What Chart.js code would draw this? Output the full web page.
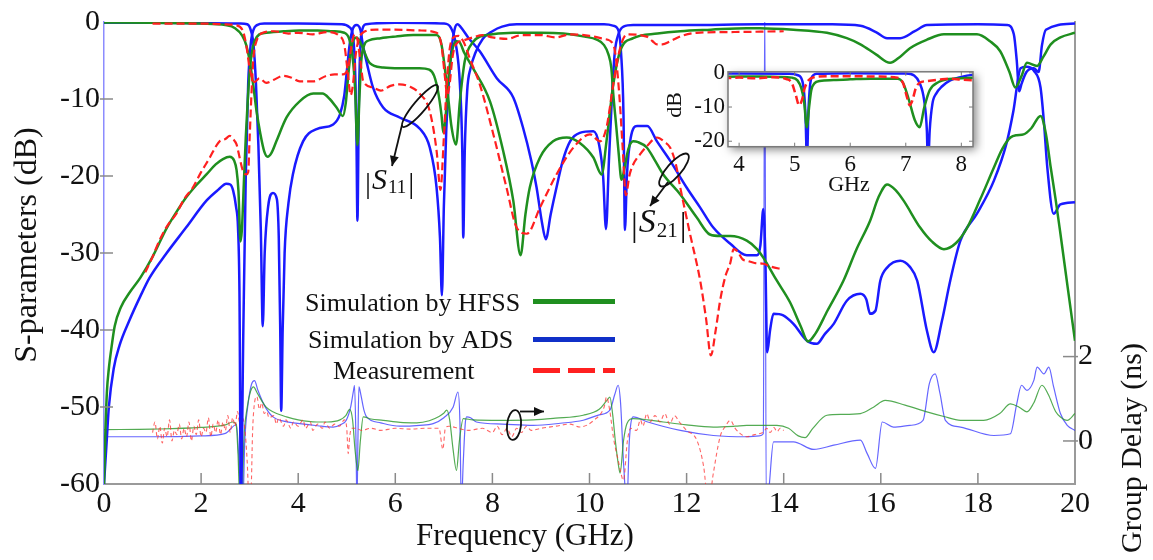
<!DOCTYPE html>
<html><head><meta charset="utf-8">
<script src="https://cdn.jsdelivr.net/npm/chart.js@4.4.0/dist/chart.umd.min.js"></script>
<style>
html,body{margin:0;padding:0;background:#fff;}
#wrap{position:relative;width:1153px;height:560px;overflow:hidden;}
#main{position:absolute;left:0;top:0;width:1153px;height:560px;}
#inset{position:absolute;left:650px;top:55px;width:335px;height:150px;}
</style></head><body>
<div id="wrap">
<canvas id="main" width="1153" height="560"></canvas>
<canvas id="inset" width="335" height="150"></canvas>
</div>
<script>
// ---------- tick labels ----------
const xTicks = [0,2,4,6,8,10,12,14,16,18,20];
const yTicks = [-60,-50,-40,-30,-20,-10,0];
const gdTicks = [0,2];
const insetXTicks = [4,5,6,7,8];
const insetYTicks = [-20,-10,0];

// ---------- series: [frequency GHz, value] ----------
const hfssS21 = [[0,-60],[0.03,-53],[0.06,-48],[0.1,-45],[0.16,-42],[0.22,-39.5],[0.35,-37],[0.52,-35.2],[0.75,-33.2],[1.0,-30.5],[1.28,-26.9],[1.5,-24.6],[1.69,-22.8],[1.9,-21.2],[2.11,-19.8],[2.3,-18.5],[2.45,-17.8],[2.59,-17.5],[2.68,-18.0],[2.73,-19.2],[2.77,-22],[2.81,-28.5],[2.84,-27],[2.88,-21],[2.92,-15],[2.96,-10.3],[3.0,-6.5],[3.04,-4.2],[3.1,-2.5],[3.2,-1.6],[3.34,-1.4],[3.7,-1.2],[4.03,-1.1],[4.4,-1.1],[4.71,-1.2],[4.95,-1.4],[5.05,-2.2],[5.12,-4.5],[5.17,-8.5],[5.22,-16],[5.26,-10],[5.3,-5],[5.36,-3],[5.45,-2.4],[5.7,-2.1],[6.0,-1.9],[6.37,-1.7],[6.85,-1.7],[6.95,-2.9],[7.06,-8.1],[7.16,-13.7],[7.25,-15.9],[7.33,-10.3],[7.43,-5.1],[7.6,-2.6],[7.74,-1.9],[8.0,-1.6],[8.43,-1.4],[9.0,-1.4],[9.46,-1.5],[9.9,-1.9],[10.15,-2.3],[10.3,-3],[10.39,-4.2],[10.45,-6],[10.49,-9.4],[10.55,-13.5],[10.6,-17],[10.66,-20.5],[10.72,-19],[10.8,-16.5],[10.9,-15.5],[11.0,-15.6],[11.18,-16.3],[11.35,-18],[11.52,-19.8],[11.87,-22.4],[12.21,-25.4],[12.48,-27.6],[12.7,-27.8],[12.9,-27.8],[13.24,-28.4],[13.45,-29.5],[13.58,-30.6],[13.85,-33.5],[14.13,-36.4],[14.35,-39.5],[14.5,-41.5],[14.65,-40.5],[14.9,-37.5],[15.23,-33.6],[15.5,-29.5],[15.78,-25.8],[15.95,-22.8],[16.13,-21.1],[16.3,-21.8],[16.47,-23.2],[16.81,-26.7],[17.05,-28.5],[17.3,-29.5],[17.55,-28.7],[17.78,-26.7],[18.05,-23],[18.33,-18.9],[18.5,-16.5],[18.67,-15],[18.8,-14.7],[18.94,-14.6],[19.1,-13.8],[19.29,-12.2],[19.4,-14.5],[19.5,-18.9],[19.6,-23],[19.7,-27.5],[19.85,-34.5],[20,-41.4]];

const hfssS11 = [[0,-0.05],[1,-0.1],[2,-0.2],[2.5,-0.4],[2.7,-0.8],[2.85,-1.8],[2.93,-3],[3.0,-5],[3.07,-8],[3.14,-11.5],[3.22,-14.5],[3.3,-16.8],[3.37,-17.5],[3.45,-17],[3.55,-15.5],[3.76,-12.4],[4.03,-10.3],[4.31,-9.3],[4.5,-9.3],[4.65,-10],[4.79,-11.1],[4.92,-12.2],[4.98,-10.5],[5.03,-7],[5.08,-4],[5.14,-2.3],[5.2,-2],[5.26,-2.4],[5.32,-3.2],[5.47,-5.3],[5.75,-5.9],[6.1,-6.0],[6.5,-6.0],[6.7,-6.2],[6.8,-7],[6.88,-9],[6.95,-12],[6.99,-14.4],[7.04,-12],[7.1,-7],[7.17,-3.8],[7.25,-2.5],[7.32,-2.6],[7.42,-4],[7.6,-6],[7.95,-10.3],[8.22,-16.7],[8.43,-23.2],[8.58,-30.3],[8.68,-25],[8.77,-21.5],[8.98,-17.6],[9.25,-15.5],[9.53,-15],[9.8,-15.7],[10.08,-17.6],[10.25,-19.8],[10.35,-15.5],[10.49,-8.1],[10.63,-3.8],[10.9,-2.1],[11.4,-1.5],[11.87,-1.2],[12.5,-1.0],[13.24,-0.8],[13.51,-0.8],[14.2,-1.0],[14.89,-1.4],[15.3,-2.1],[15.58,-2.9],[15.9,-4.2],[16.19,-5.3],[16.4,-4.5],[16.6,-3.4],[16.95,-2.3],[17.3,-1.6],[17.98,-1.6],[18.25,-2.5],[18.46,-3.8],[18.65,-6.5],[18.77,-8.5],[18.9,-7],[19.01,-5.3],[19.22,-5.7],[19.35,-4.5],[19.5,-2.9],[19.7,-2],[20,-1.4]];

const adsS21 = [[0,-60],[0.05,-55],[0.1,-50],[0.2,-45],[0.32,-42],[0.52,-38.8],[0.75,-35.6],[0.94,-33.2],[1.28,-30.1],[1.69,-26.7],[2.11,-23.2],[2.35,-21.8],[2.52,-21],[2.6,-21.1],[2.66,-21.9],[2.72,-24],[2.76,-26.7],[2.79,-35],[2.82,-62],[2.87,-40],[2.92,-20],[2.97,-8],[3.02,-3],[3.08,-1],[3.15,-0.4],[3.3,-0.2],[4.0,-0.2],[4.9,-0.3],[5.06,-0.7],[5.14,-2.5],[5.18,-8],[5.2,-15],[5.22,-25.8],[5.25,-10.3],[5.3,-1.6],[5.4,-0.3],[6.0,-0.1],[7.0,-0.2],[7.15,-0.8],[7.25,-3],[7.33,-8],[7.38,-17],[7.4,-28],[7.43,-17],[7.48,-9],[7.55,-6],[7.65,-4],[7.8,-2.2],[8.0,-1.2],[8.2,-0.6],[8.5,-0.3],[10.3,-0.3],[10.5,-0.5],[10.6,-1.2],[10.65,-4],[10.7,-12],[10.73,-27],[10.77,-20],[10.85,-15],[10.98,-13.5],[11.19,-13.5],[11.39,-15.5],[11.66,-18],[12.0,-21.5],[12.28,-24.1],[12.55,-26.7],[12.9,-28.8],[13.24,-30.3],[13.45,-30.3],[13.52,-29],[13.58,-24.3],[13.62,-30],[13.66,-42.9],[13.72,-40],[13.79,-37.9],[13.99,-38.1],[14.2,-39.2],[14.48,-41.4],[14.68,-41.8],[14.85,-40.5],[15.03,-39.2],[15.3,-36.2],[15.58,-35.3],[15.7,-36],[15.78,-37.9],[15.89,-37.5],[15.99,-33.6],[16.13,-31.9],[16.4,-31],[16.6,-31.8],[16.75,-33.6],[16.95,-40.1],[17.09,-42.9],[17.26,-38.8],[17.43,-33.6],[17.64,-28.4],[17.98,-24.9],[18.33,-20.6],[18.6,-15.5],[18.73,-11.6],[18.88,-6],[19.0,-5.8],[19.15,-6.3],[19.29,-8.5],[19.36,-13],[19.43,-18.9],[19.56,-24.9],[19.7,-23.7],[20,-23.4]];

const adsS11 = [[0,-0.1],[1,-0.1],[2,-0.15],[2.8,-0.2],[2.95,-0.3],[3.02,-1],[3.08,-3],[3.13,-8],[3.18,-16],[3.23,-27],[3.27,-39.5],[3.31,-30],[3.38,-24],[3.48,-22.2],[3.56,-23],[3.6,-28],[3.63,-40],[3.65,-50.5],[3.68,-40],[3.72,-30],[3.8,-23.5],[3.89,-19.8],[4.1,-15.5],[4.38,-13.9],[4.72,-13.3],[4.86,-12],[4.95,-9.5],[5.0,-6.5],[5.06,-2.9],[5.12,-1],[5.2,-0.4],[5.28,-1],[5.33,-2.9],[5.42,-5.5],[5.54,-8.5],[5.75,-11.1],[6.09,-12.4],[6.51,-13.9],[6.71,-16.3],[6.85,-21.5],[6.92,-28],[6.96,-35.5],[7.0,-24],[7.05,-14],[7.09,-9],[7.15,-4],[7.22,-1],[7.28,-0.3],[7.34,-0.6],[7.5,-2],[7.74,-3.8],[8.09,-7.3],[8.43,-9.8],[8.63,-13.7],[8.8,-18],[8.91,-21.5],[9.02,-26],[9.1,-28.2],[9.2,-25],[9.32,-21.5],[9.45,-18],[9.6,-15.5],[9.8,-14.4],[10.08,-14.2],[10.2,-16],[10.28,-20],[10.34,-26.9],[10.4,-18],[10.46,-10],[10.52,-4],[10.6,-1.5],[10.7,-0.6],[10.9,-0.4],[12,-0.4],[13.5,-0.3],[15.0,-0.3],[15.58,-0.5],[15.9,-1.3],[16.13,-2.1],[16.4,-2.1],[16.7,-1.2],[16.95,-0.4],[18.0,-0.3],[18.6,-0.4],[18.74,-1.6],[18.8,-5],[18.85,-9],[18.9,-8],[19.0,-6.5],[19.15,-6],[19.25,-6.5],[19.32,-3],[19.4,-1],[20,-0.2]];

const measS21 = [[0.85,-32.5],[1.0,-30.5],[1.14,-28.4],[1.3,-26.5],[1.49,-24.9],[1.65,-23],[1.83,-21.5],[2.0,-19.5],[2.18,-17.6],[2.3,-16.2],[2.38,-15.5],[2.5,-15.2],[2.59,-14.8],[2.66,-15.2],[2.73,-15.9],[2.8,-17.8],[2.86,-19.3],[2.93,-19.8],[2.97,-19.5],[3.0,-15],[3.04,-9],[3.08,-4.5],[3.14,-2.5],[3.27,-1.4],[3.5,-1.2],[3.8,-1.5],[4.0,-1.4],[4.3,-1.6],[4.6,-1.3],[4.85,-1.8],[4.95,-3],[5.02,-6.5],[5.08,-9.5],[5.13,-8],[5.18,-4.5],[5.25,-2.2],[5.35,-1.3],[5.6,-1.0],[6.0,-1.0],[6.5,-1.1],[6.85,-1.4],[6.95,-3],[7.02,-7],[7.07,-9.5],[7.12,-8],[7.18,-4.5],[7.25,-2.9],[7.4,-2.4],[7.6,-2.0],[7.8,-1.7],[8.0,-2.0],[8.3,-2.2],[8.6,-1.7],[9.0,-1.7],[9.3,-2.0],[9.6,-1.6],[10.0,-1.8],[10.3,-2.2],[10.49,-2.9],[10.55,-5],[10.62,-10],[10.68,-16],[10.75,-22.5],[10.82,-20],[10.9,-18.5],[11.04,-17.2],[11.2,-16],[11.39,-15],[11.55,-15.6],[11.66,-16.3],[11.78,-18.5],[11.87,-21.5],[12.07,-27.5],[12.28,-33.6],[12.4,-38.5],[12.5,-43.3],[12.6,-40],[12.69,-36.2],[12.8,-33],[12.9,-31.3],[12.97,-29.5],[13.05,-29.8],[13.15,-30.8],[13.24,-31],[13.4,-31.3],[13.58,-31.4],[13.75,-31.8],[13.97,-32.1]];

const measS11 = [[1.0,-0.2],[2.0,-0.2],[2.5,-0.3],[2.7,-0.4],[2.85,-1],[2.93,-3],[3.0,-6],[3.1,-7.8],[3.2,-7.3],[3.34,-7.9],[3.5,-7.5],[3.69,-7.0],[3.85,-7.2],[4.03,-7.7],[4.31,-7.7],[4.58,-7.0],[4.75,-6.8],[4.92,-6.8],[5.03,-5.9],[5.1,-3],[5.16,-1.6],[5.22,-2.3],[5.28,-5],[5.34,-7.7],[5.54,-8.5],[5.7,-8.9],[5.9,-8.3],[6.09,-8.1],[6.3,-8.4],[6.5,-9.3],[6.71,-11.6],[6.85,-16.7],[6.93,-21.8],[7.0,-15],[7.06,-8],[7.12,-3.5],[7.2,-2],[7.3,-1.8],[7.4,-2.5],[7.55,-5],[7.74,-8.1],[8.02,-14.6],[8.29,-21.5],[8.5,-26.7],[8.71,-27.5],[8.98,-24.1],[9.32,-19.8],[9.67,-16.3],[10.01,-14.6],[10.22,-15.5],[10.35,-13.7],[10.49,-8.1],[10.63,-3.4],[10.77,-1.6],[11.18,-1.9],[11.3,-2.5],[11.39,-2.9],[11.5,-2.9],[11.66,-2.5],[11.9,-1.8],[12.21,-1.4],[13.0,-1.3],[14.0,-1.2]];

// group delay (ns)
const hfssGD = [[0,0.27],[1,0.28],[2,0.32],[2.5,0.38],[2.65,0.45],[2.72,0.4],[2.76,-0.3],[2.8,-1.5],[2.84,-1.5],[2.88,0],[2.95,0.8],[3.02,1.18],[3.08,1.28],[3.15,1.15],[3.25,0.95],[3.34,0.8],[3.5,0.68],[3.76,0.57],[4.0,0.5],[4.38,0.45],[4.6,0.45],[4.86,0.5],[4.98,0.6],[5.06,0.75],[5.12,0.5],[5.17,-0.2],[5.23,-0.7],[5.28,0],[5.34,0.57],[5.5,0.52],[5.75,0.49],[6.1,0.44],[6.44,0.43],[6.7,0.48],[6.9,0.58],[6.99,0.65],[7.06,0.73],[7.12,0.5],[7.19,-0.2],[7.26,-0.7],[7.32,0],[7.4,0.53],[7.6,0.5],[8.15,0.49],[8.84,0.5],[9.3,0.54],[9.87,0.61],[10.2,0.75],[10.35,0.95],[10.42,1.04],[10.48,0.6],[10.53,0.02],[10.6,-0.6],[10.63,-0.76],[10.7,0],[10.77,0.41],[10.9,0.53],[11.2,0.5],[11.52,0.45],[12.0,0.38],[12.55,0.33],[13.0,0.35],[13.24,0.37],[13.86,0.37],[14.1,0.3],[14.3,0.12],[14.44,0.08],[14.6,0.3],[14.89,0.61],[15.2,0.63],[15.58,0.65],[15.85,0.8],[16.09,0.96],[16.5,0.85],[16.95,0.69],[17.3,0.58],[17.64,0.49],[18.12,0.49],[18.45,0.65],[18.67,0.88],[18.85,0.8],[19.01,0.69],[19.15,0.9],[19.32,1.32],[19.45,1.1],[19.6,0.7],[19.7,0.57],[19.84,0.49],[20,0.65]];

const adsGD = [[0,0.1],[1,0.1],[2,0.12],[2.5,0.18],[2.73,0.39],[2.78,-0.5],[2.82,-1.5],[2.86,-1.5],[2.9,0],[2.97,0.9],[3.04,1.35],[3.1,1.43],[3.17,1.2],[3.3,0.85],[3.48,0.57],[3.7,0.47],[4.03,0.41],[4.4,0.36],[4.72,0.33],[4.9,0.4],[4.99,0.49],[5.08,0.8],[5.14,1.2],[5.16,1.32],[5.19,0],[5.21,-1.5],[5.23,0],[5.25,1.28],[5.29,1.1],[5.35,0.75],[5.41,0.57],[5.7,0.43],[6.09,0.35],[6.5,0.37],[6.78,0.41],[7.0,0.55],[7.19,0.8],[7.29,1.16],[7.33,0.5],[7.36,-1.5],[7.4,-0.5],[7.44,0.4],[7.47,0.57],[7.55,0.55],[7.67,0.45],[8.2,0.4],[8.84,0.37],[9.4,0.42],[9.87,0.49],[10.2,0.62],[10.42,0.73],[10.52,1.1],[10.59,1.32],[10.64,0.9],[10.7,-0.5],[10.77,-1.5],[10.82,0],[10.9,0.57],[11.2,0.45],[11.87,0.25],[12.55,0.13],[13.24,0.1],[13.5,0.12],[13.58,0.17],[13.61,10.5],[13.64,-1.5],[13.69,-1.2],[13.79,-0.02],[14.2,-0.02],[14.62,-0.2],[15.03,-0.1],[15.58,0.02],[15.72,-0.3],[15.89,-0.65],[16.03,0.45],[16.26,0.33],[16.6,0.37],[16.87,0.49],[17.0,1.36],[17.12,1.59],[17.22,1.12],[17.33,0.49],[17.64,0.33],[18.33,0.13],[18.67,0.17],[18.8,0.88],[18.9,1.32],[19.01,1.2],[19.15,1.43],[19.22,1.75],[19.36,1.59],[19.46,1.75],[19.56,1.28],[19.7,0.65],[19.84,0.37],[20,0.25]];

const measGD = [[1.0,0.2],[1.05,0.45],[1.1,0.05],[1.15,0.35],[1.2,-0.05],[1.25,0.3],[1.3,0.1],[1.35,0.5],[1.4,0.0],[1.45,0.25],[1.5,0.15],[1.55,0.4],[1.6,0.05],[1.65,0.3],[1.7,0.1],[1.75,0.45],[1.8,0.0],[1.85,0.35],[1.9,0.15],[1.95,0.5],[2.0,0.1],[2.05,0.3],[2.1,0.2],[2.15,0.55],[2.2,0.1],[2.25,0.4],[2.3,0.2],[2.35,0.5],[2.4,0.15],[2.45,0.45],[2.5,0.25],[2.55,0.6],[2.6,0.2],[2.65,0.55],[2.7,0.35],[2.75,0.7],[2.8,0.4],[2.85,0.55],[2.9,0.3],[2.95,-0.5],[2.99,-1.5],[3.03,-1.2],[3.06,0.2],[3.1,0.9],[3.15,1.05],[3.2,0.75],[3.25,0.9],[3.3,0.65],[3.35,0.7],[3.4,0.55],[3.5,0.6],[3.55,0.4],[3.6,0.55],[3.7,0.35],[3.75,0.5],[3.85,0.3],[3.9,0.45],[4.0,0.35],[4.1,0.5],[4.15,0.3],[4.25,0.45],[4.3,0.25],[4.4,0.4],[4.5,0.3],[4.55,0.45],[4.65,0.3],[4.75,0.4],[4.85,0.35],[4.95,0.5],[5.0,0.3],[5.03,-0.3],[5.06,0.1],[5.1,0.3],[5.2,0.3],[5.3,0.25],[5.5,0.3],[5.7,0.25],[6.0,0.3],[6.3,0.28],[6.6,0.3],[6.9,0.3],[6.98,-0.2],[7.03,0.3],[7.1,0.35],[7.3,0.3],[7.5,0.25],[7.8,0.3],[8.0,0.2],[8.1,0.35],[8.2,0.15],[8.3,0.3],[8.4,0.1],[8.5,0.3],[8.6,0.2],[8.7,0.35],[8.8,0.25],[9.0,0.3],[9.3,0.35],[9.6,0.4],[9.8,0.33],[10.1,0.5],[10.3,0.8],[10.35,1.04],[10.42,0.7],[10.49,0.1],[10.6,-0.5],[10.7,-0.93],[10.78,0],[10.85,0.3],[10.97,0.25],[11.05,0.5],[11.1,0.35],[11.18,0.65],[11.25,0.45],[11.35,0.6],[11.45,0.45],[11.55,0.65],[11.65,0.4],[11.75,0.6],[11.85,0.45],[12.0,0.25],[12.21,0.02],[12.35,-0.6],[12.45,-1.5],[12.55,-0.77],[12.69,0.1],[12.8,0.35],[12.9,0.49],[13.0,0.3],[13.1,0.18],[13.24,0.1],[13.4,0.15],[13.58,0.21],[13.65,0.3],[13.72,0.2],[13.8,0.32],[13.86,0.22],[13.93,0.3],[14.0,0.25]];

// ---------- styling ----------
const SERIF = "'Liberation Serif', serif";
Chart.defaults.font.family = SERIF;
const GREEN = '#1f8f1f', BLUE = '#1a1aff', RED = '#ff2020';
const GREEN_T = 'rgba(40,150,40,0.8)', BLUE_T = 'rgba(50,50,255,0.75)', RED_T = 'rgba(255,50,50,0.75)';
const pts = a => a.map(p => ({x: p[0], y: p[1]}));

function ds(data, color, width, dash, axis, order) {
  return {data: pts(data), yAxisID: axis, showLine: true, borderColor: color, borderWidth: width,
          borderDash: dash, pointRadius: 0, fill: false, order: order, cubicInterpolationMode: 'monotone'};
}

function line(ctx, x1, y1, x2, y2) { ctx.beginPath(); ctx.moveTo(x1, y1); ctx.lineTo(x2, y2); ctx.stroke(); }
function arrow(ctx, x1, y1, x2, y2) {
  line(ctx, x1, y1, x2, y2);
  const ang = Math.atan2(y2 - y1, x2 - x1), L = 10, W = 4.5;
  ctx.beginPath();
  ctx.moveTo(x2, y2);
  ctx.lineTo(x2 - L*Math.cos(ang) + W*Math.sin(ang), y2 - L*Math.sin(ang) - W*Math.cos(ang));
  ctx.lineTo(x2 - L*Math.cos(ang) - W*Math.sin(ang), y2 - L*Math.sin(ang) + W*Math.cos(ang));
  ctx.closePath(); ctx.fill();
}
function loop(ctx, cx, cy, rx, ry, rot) { ctx.beginPath(); ctx.ellipse(cx, cy, rx, ry, rot, 0, Math.PI*2); ctx.stroke(); }
function sLabel(ctx, x, base, sub, size) {
  ctx.textAlign = 'left'; ctx.textBaseline = 'alphabetic';
  ctx.font = `${size}px ${SERIF}`;
  ctx.fillText('|', x, base + size*0.12);
  let cx = x + ctx.measureText('|').width + 1;
  ctx.font = `italic ${size}px ${SERIF}`;
  ctx.fillText('S', cx, base);
  cx += ctx.measureText('S').width + 1;
  const ss = Math.round(size*0.62);
  ctx.font = `${ss}px ${SERIF}`;
  ctx.fillText(sub, cx, base + size*0.14);
  cx += ctx.measureText(sub).width + 2;
  ctx.font = `${size}px ${SERIF}`;
  ctx.fillText('|', cx, base + size*0.12);
}
function vText(ctx, s, cx, cy, font) {
  ctx.save(); ctx.translate(cx, cy); ctx.rotate(-Math.PI/2);
  ctx.font = font; ctx.textAlign = 'center'; ctx.textBaseline = 'middle';
  ctx.fillText(s, 0, 0); ctx.restore();
}

const decor = {
  id: 'decor',
  afterDraw(chart) {
    const {ctx, chartArea: a, scales: {x, y, y2}} = chart;
    ctx.save();
    // inward ticks
    ctx.strokeStyle = '#8a8a8a'; ctx.lineWidth = 1.5;
    xTicks.forEach(v => { if (v > 0 && v < 20) { const p = x.getPixelForValue(v); line(ctx, p, a.bottom, p, a.bottom - 11); } });
    yTicks.forEach(v => { if (v > -60 && v < 0) { const p = y.getPixelForValue(v); line(ctx, a.left - 4, p, a.left + 9, p); } });
    gdTicks.forEach(v => { const p = y2.getPixelForValue(v); line(ctx, a.right - 12, p, a.right + 3, p); });
    // axis titles
    ctx.fillStyle = '#111';
    vText(ctx, 'S-parameters (dB)', 28, 245, `32px ${SERIF}`);
    vText(ctx, 'Group Delay (ns)', 1133, 448, `30px ${SERIF}`);
    ctx.font = `31px ${SERIF}`; ctx.textAlign = 'center'; ctx.textBaseline = 'middle';
    ctx.fillText('Frequency (GHz)', 525, 537);
    // legend
    ctx.font = `26px ${SERIF}`; ctx.textAlign = 'left'; ctx.textBaseline = 'alphabetic';
    ctx.fillText('Simulation by HFSS', 305, 310.5);
    ctx.fillText('Simulation by ADS', 308, 348);
    ctx.fillText('Measurement', 333, 379);
    ctx.lineWidth = 5; ctx.lineCap = 'butt';
    ctx.strokeStyle = GREEN; line(ctx, 533, 301.5, 615, 301.5);
    ctx.strokeStyle = '#1030c8'; line(ctx, 533, 339.5, 615, 339.5);
    ctx.strokeStyle = RED; ctx.setLineDash([27, 8]); line(ctx, 533, 370.5, 615, 370.5); ctx.setLineDash([]);
    // annotations
    ctx.strokeStyle = '#111'; ctx.fillStyle = '#111'; ctx.lineWidth = 1.8;
    loop(ctx, 420, 106, 27, 6, -0.87);
    arrow(ctx, 402, 125, 392, 166);
    sLabel(ctx, 365, 189, '11', 30);
    loop(ctx, 674, 170, 21, 7, -0.85);
    arrow(ctx, 668, 182, 650, 206);
    sLabel(ctx, 631, 232, '21', 34);
    loop(ctx, 514, 425, 7, 15, 0.1);
    arrow(ctx, 520, 411.5, 544, 411.5);
    ctx.restore();
  }
};

new Chart(document.getElementById('main'), {
  type: 'scatter',
  data: {datasets: [
    ds(measS21, RED, 2.2, [8, 4], 'y', 1),
    ds(measS11, RED, 2.2, [8, 4], 'y', 1),
    ds(hfssS21, GREEN, 2.5, [], 'y', 2),
    ds(hfssS11, GREEN, 2.5, [], 'y', 2),
    ds(adsS21, BLUE, 2.5, [], 'y', 3),
    ds(adsS11, BLUE, 2.5, [], 'y', 3),
    ds(measGD, RED_T, 1.1, [4, 3], 'y2', 4),
    ds(hfssGD, GREEN_T, 1.2, [], 'y2', 5),
    ds(adsGD, BLUE_T, 1.2, [], 'y2', 6)
  ]},
  options: {
    responsive: false, animation: false, devicePixelRatio: 1,
    layout: {padding: {top: 20, left: 0, right: 0, bottom: 0}},
    plugins: {legend: {display: false}, tooltip: {enabled: false}},
    scales: {
      x: {type: 'linear', min: 0, max: 20,
          afterBuildTicks(s) { s.ticks = xTicks.map(v => ({value: v})); },
          ticks: {font: {family: SERIF, size: 30}, color: '#111', padding: 2, maxRotation: 0, autoSkip: false},
          grid: {display: false, drawTicks: false}, border: {display: true, color: '#9a9a9a', width: 2},
          afterFit(s) { s.height = 76; }},
      y: {type: 'linear', min: -60, max: 0,
          afterBuildTicks(s) { s.ticks = yTicks.map(v => ({value: v})); },
          ticks: {font: {family: SERIF, size: 30}, color: '#111', padding: 4, autoSkip: false},
          grid: {display: false, drawTicks: false}, border: {display: true, color: '#8c8cff', width: 1.5},
          afterFit(s) { s.width = 104; }},
      y2: {type: 'linear', position: 'right', min: -1.02, max: 9.93,
          afterBuildTicks(s) { s.ticks = gdTicks.map(v => ({value: v})); },
          ticks: {font: {family: SERIF, size: 30}, color: '#111', padding: 3, autoSkip: false},
          grid: {display: false, drawTicks: false}, border: {display: true, color: '#9a9a9a', width: 2},
          afterFit(s) { s.width = 78; }}
    }
  },
  plugins: [decor]
});

// ---------- inset ----------
const insetDecor = {
  id: 'insetDecor',
  beforeDraw(chart) {
    const {ctx, chartArea: a} = chart;
    ctx.save();
    ctx.shadowColor = 'rgba(0,0,0,0.5)'; ctx.shadowBlur = 9; ctx.shadowOffsetX = 3; ctx.shadowOffsetY = 3;
    ctx.fillStyle = '#fff';
    ctx.fillRect(a.left, a.top, a.right - a.left, a.bottom - a.top);
    ctx.restore();
  },
  afterDraw(chart) {
    const {ctx, chartArea: a, scales: {x, y}} = chart;
    ctx.save();
    ctx.strokeStyle = '#7a7a7a'; ctx.lineWidth = 1.5;
    ctx.strokeRect(a.left, a.top, a.right - a.left, a.bottom - a.top);
    ctx.lineWidth = 1;
    insetXTicks.forEach(v => { const p = x.getPixelForValue(v); line(ctx, p, a.bottom, p, a.bottom - 4); line(ctx, p, a.top, p, a.top + 4); });
    insetYTicks.forEach(v => { const p = y.getPixelForValue(v); line(ctx, a.left, p, a.left + 4, p); line(ctx, a.right, p, a.right - 4, p); });
    ctx.fillStyle = '#111';
    ctx.font = `22px ${SERIF}`; ctx.textAlign = 'center'; ctx.textBaseline = 'middle';
    ctx.fillText('GHz', 199, 130);
    vText(ctx, 'dB', 25, 50, `22px ${SERIF}`);
    ctx.restore();
  }
};

function dsI(data, color, dash, order) {
  return {data: pts(data), showLine: true, borderColor: color, borderWidth: 2.5, borderDash: dash,
          pointRadius: 0, fill: false, order: order, cubicInterpolationMode: 'monotone'};
}

new Chart(document.getElementById('inset'), {
  type: 'scatter',
  data: {datasets: [
    dsI(measS21, RED, [8, 4], 1),
    dsI(hfssS21, GREEN, [], 2),
    dsI(adsS21, BLUE, [], 3)
  ]},
  options: {
    responsive: false, animation: false, devicePixelRatio: 1,
    layout: {padding: {top: 15, right: 12, left: 0, bottom: 0}},
    plugins: {legend: {display: false}, tooltip: {enabled: false}},
    scales: {
      x: {type: 'linear', min: 3.8, max: 8.21,
          afterBuildTicks(s) { s.ticks = insetXTicks.map(v => ({value: v})); },
          ticks: {font: {family: SERIF, size: 23}, color: '#111', padding: 4, maxRotation: 0, autoSkip: false},
          grid: {display: false, drawTicks: false}, border: {display: false},
          afterFit(s) { s.height = 58.3; }},
      y: {type: 'linear', min: -21.6, max: 0.3,
          afterBuildTicks(s) { s.ticks = insetYTicks.map(v => ({value: v})); },
          ticks: {font: {family: SERIF, size: 23}, color: '#111', padding: 3, autoSkip: false},
          grid: {display: false, drawTicks: false}, border: {display: false},
          afterFit(s) { s.width = 78; }}
    }
  },
  plugins: [insetDecor]
});
</script>
</body></html>
